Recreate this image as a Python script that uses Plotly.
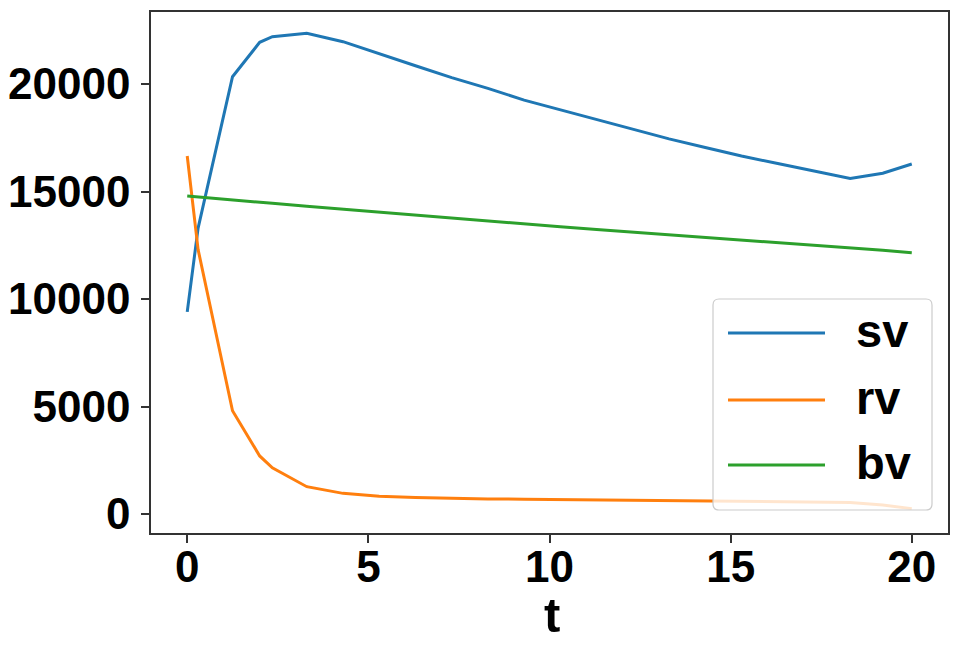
import plotly.graph_objects as go

t = [0, 0.3, 1.25, 2.0, 2.35, 3.3, 4.3, 5.3, 6.3, 7.3, 8.3, 9.3, 10.3, 11.3,
     12.3, 13.3, 14.3, 15.3, 16.3, 17.3, 18.3, 19.2, 20]
sv = [9400, 13300, 20340, 21940, 22200, 22360, 21970, 21400, 20850, 20300,
      19800, 19250, 18800, 18350, 17900, 17450, 17050, 16650, 16300, 15950,
      15610, 15850, 16280]
rv = [16650, 12300, 4800, 2700, 2150, 1270, 960, 830, 770, 730, 700, 690,
      670, 650, 640, 620, 605, 590, 575, 560, 540, 420, 250]
bv = [14790, 14750, 14610, 14500, 14450, 14310, 14170, 14030, 13890, 13760,
      13620, 13490, 13360, 13230, 13110, 12980, 12860, 12740, 12620, 12500,
      12380, 12270, 12150]
names = ["sv", "rv", "bv"]
series = [sv, rv, bv]
colors = ["#1f77b4", "#ff7f0e", "#2ca02c"]
xticks = [0, 5, 10, 15, 20]
yticks = [0, 5000, 10000, 15000, 20000]
ylabels = ["0", "5000", "10000", "15000", "20000"]
xtitle = "t"

FONT = "Liberation Sans, Arial, sans-serif"

fig = go.Figure()
for name, vals, c in zip(names, series, colors):
    fig.add_trace(go.Scatter(x=t, y=vals, mode="lines", name=name,
                             line=dict(color=c, width=3), showlegend=False))

# page body has an 8px margin: figure is sized/offset to compensate
OFF = 8
W, H = 960 - OFF, 645 - OFF
# plot area in window pixels: x 151..948, y 12..533
L, R, T, B = 151 - OFF, W - (948 - OFF), 12 - OFF, H - (533 - OFF)
pw, ph = W - L - R, H - T - B

def px(x):
    return (x - OFF - L) / pw

def py(y):
    return (H - B - (y - OFF)) / ph

# legend box (rounded)
x0, x1, y0, y1 = px(713), px(932), py(510), py(299)
rx, ry = 6 / pw, 6 / ph
path = (f"M {x0+rx},{y0} L {x1-rx},{y0} Q {x1},{y0} {x1},{y0+ry} "
        f"L {x1},{y1-ry} Q {x1},{y1} {x1-rx},{y1} L {x0+rx},{y1} "
        f"Q {x0},{y1} {x0},{y1-ry} L {x0},{y0+ry} Q {x0},{y0} {x0+rx},{y0} Z")
shapes = [dict(type="path", xref="paper", yref="paper", path=path,
               fillcolor="rgba(255,255,255,0.8)",
               line=dict(color="#cccccc", width=1.2), layer="above")]
annotations = []
rows = [333, 400, 465]
for name, c, ry_ in zip(names, colors, rows):
    shapes.append(dict(type="line", xref="paper", yref="paper",
                       x0=px(728), x1=px(825), y0=py(ry_), y1=py(ry_),
                       line=dict(color=c, width=3), layer="above"))
    annotations.append(dict(xref="paper", yref="paper", x=px(854), y=py(ry_ - 3),
                            text=name, showarrow=False, xanchor="left",
                            yanchor="middle",
                            font=dict(family=FONT, size=47, color="black",
                                      weight="bold")))

# x-axis title
annotations.append(dict(xref="paper", yref="paper", x=px(552), y=py(615),
                        text=xtitle, showarrow=False, xanchor="center",
                        yanchor="middle",
                        font=dict(family=FONT, size=49, color="black",
                                  weight="bold")))

axis_common = dict(showline=True, linecolor="#333333", linewidth=1.5,
                   mirror=True, ticks="outside", ticklen=8, tickwidth=1.5,
                   tickcolor="#333333", showgrid=False, zeroline=False,
                   automargin=False,
                   tickfont=dict(family=FONT, size=44, color="black",
                                 weight="bold"))

fig.update_layout(
    width=W, height=H,
    margin=dict(l=L, r=R, t=T, b=B, pad=0),
    paper_bgcolor="white", plot_bgcolor="white",
    xaxis=dict(range=[-1, 21], tickvals=xticks, ticklabelstandoff=-14,
               **axis_common),
    yaxis=dict(range=[-884, 23350], tickvals=yticks, ticktext=ylabels,
               ticklabelstandoff=2, **axis_common),
    shapes=shapes, annotations=annotations,
)
fig.write_html("out.html")
